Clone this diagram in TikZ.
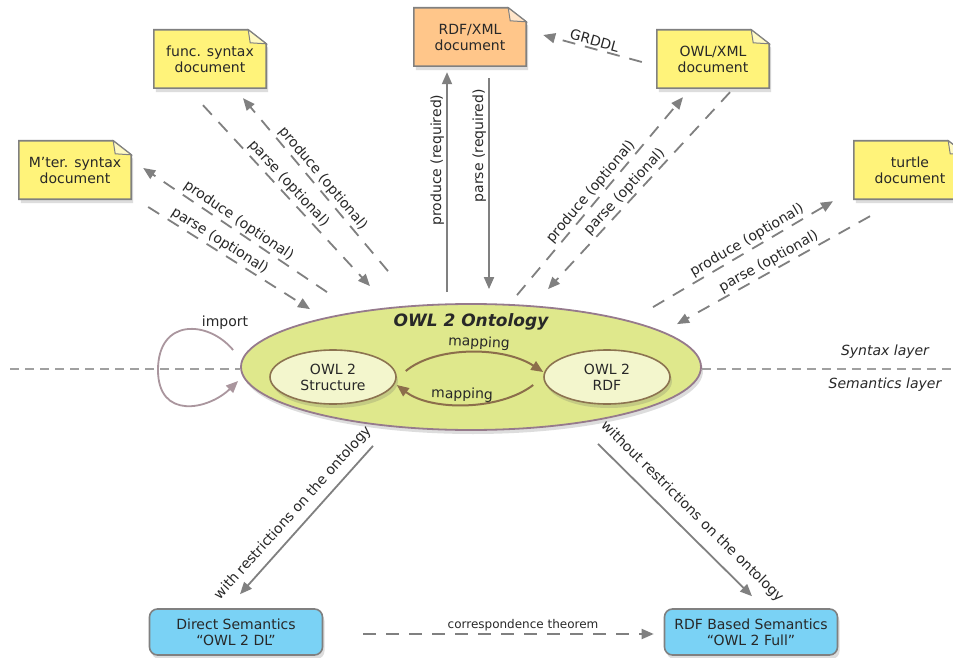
\documentclass[tikz,border=0pt]{standalone}
\usepackage{fontspec}
\setmainfont{DejaVu Sans}
\usetikzlibrary{arrows.meta, positioning, shapes.geometric, calc, backgrounds, shadows}
\definecolor{docyellow}{RGB}{255,243,122}
\definecolor{docorange}{RGB}{255,198,138}
\definecolor{docline}{RGB}{128,128,128}
\definecolor{ontfill}{RGB}{223,232,140}
\definecolor{ontline}{RGB}{150,122,140}
\definecolor{innerfill}{RGB}{243,246,205}
\definecolor{innerline}{RGB}{140,115,80}
\definecolor{mapbrown}{RGB}{140,110,75}
\definecolor{semfill}{RGB}{122,210,245}
\definecolor{arrowgray}{RGB}{128,128,128}
\definecolor{importline}{RGB}{170,150,158}
\definecolor{layerline}{RGB}{160,160,160}
\definecolor{textdark}{RGB}{40,40,40}

\begin{document}
\begin{tikzpicture}[x=1pt, y=-1pt, font=\fontsize{14}{16}\selectfont,
    every node/.append style={text=textdark},
    docnode/.style={minimum width=112pt, minimum height=58pt, align=center, inner sep=2pt},
    docshape/.style={draw=docline, line width=1.6pt},
    softshadow/.style={drop shadow={shadow xshift=2pt, shadow yshift=-4pt, opacity=0.22, fill=black!60}},
    ontnode/.style={ellipse, draw=ontline, line width=1.8pt, fill=ontfill, minimum width=460pt, minimum height=126pt, softshadow},
    innernode/.style={ellipse, draw=innerline, line width=1.6pt, fill=innerfill, minimum width=126pt, minimum height=54pt, align=center, inner sep=0pt},
    semnode/.style={rectangle, rounded corners=8pt, draw=docline, line width=1.6pt, fill=semfill, minimum width=173pt, minimum height=46pt, align=center, softshadow},
    solidarrow/.style={draw=arrowgray, line width=1.8pt, -{Triangle[length=12pt,width=10pt]}},
    dasharrow/.style={solidarrow, dash pattern=on 13pt off 10pt},
    maparrow/.style={draw=mapbrown, line width=2pt, -{Triangle[length=12pt,width=10pt]}},
    arrowlabel/.style={sloped, above, inner sep=2pt},
    vlabel/.style={rotate=90, above, inner sep=2pt},
    layer/.style={draw=layerline, line width=1.3pt, dash pattern=on 9pt off 6pt}]
    \useasboundingbox (0,0) rectangle (953,658);

    % Documents
    \node[docnode] (func) at (210,59) {func. syntax\\document};
    \node[docnode] (rdf) at (470,37) {RDF/XML\\document};
    \node[docnode] (owlxml) at (713,59) {OWL/XML\\document};
    \node[docnode] (mter) at (75,170) {M’ter. syntax\\document};
    \node[docnode] (turtle) at (910,170) {turtle\\document};

    % Ontology with its two forms
    \node[ontnode] (ont) at (471,367) {};
    \node[below=7pt of ont.north, font=\fontsize{17}{20}\selectfont\bfseries\itshape] (onttitle) {OWL 2 Ontology};
    \node[innernode, softshadow] (struct) at (333,377) {OWL 2\\Structure};
    \node[innernode, softshadow] (rdfin) at (607,377) {OWL 2\\RDF};
    \draw[maparrow] ($(struct.east)+(9,-6)$) .. controls +(30,-25) and +(-40,-26) .. ($(rdfin.west)+(0,-5)$)
        node[arrowlabel, pos=0.55] {mapping};
    \draw[maparrow] ($(rdfin.west)+(-10,8)$) .. controls +(-34,26) and +(34,26) .. ($(struct.east)+(0,8)$)
        node[arrowlabel, pos=0.52] {mapping};

    % Import loop
    \coordinate (impout) at ($(ont.west)+(-7,-17)$);
    \coordinate (impmid) at (158,370);
    \coordinate (impin) at ($(ont.west)+(-2,14)$);
    \draw[draw=importline, line width=1.8pt, -{Triangle[length=12pt,width=10pt]}] (impout) .. controls +(-25,-30) and +(0,-52) .. (impmid) .. controls +(0,50) and +(-30,29) .. (impin);
    \node (implabel) at (225,323) {import};

    % Layers
    \coordinate (layerL) at (10,369);
    \coordinate (layerR) at (953,369);
    \draw[layer] (layerL) -- (layerL -| ont.west);
    \draw[layer] (ont.east |- layerR) -- (layerR);
    \node[font=\fontsize{14}{16}\selectfont\itshape] (syntaxlab) at (885,352) {Syntax layer};
    \node[font=\fontsize{14}{16}\selectfont\itshape] (semlab) at (885,385) {Semantics layer};

    % Semantics
    \node[semnode] (direct) at (236,632) {Direct Semantics\\“OWL 2 DL”};
    \node[semnode] (rdfsem) at (751,632) {RDF Based Semantics\\“OWL 2 Full”};

    % func. syntax
    \draw[dasharrow] ($(ont.north)+(-83,-32)$) -- ($(func.south)+(33,10)$) node[arrowlabel, pos=0.5] {produce (optional)};
    \draw[dasharrow] ($(func.south)+(-7,17)$) -- ($(ont.north)+(-101,-17)$) node[arrowlabel, pos=0.47] {parse (optional)};
    % M'ter. syntax
    \draw[dasharrow] ($(ont.north)+(-144,-11)$) -- ($(mter.east)+(12,-2)$) node[arrowlabel, pos=0.51] {produce (optional)};
    \draw[dasharrow] ($(mter.east)+(17,37)$) -- ($(ont.north)+(-161,6)$) node[arrowlabel, pos=0.41] {parse (optional)};
    % RDF/XML
    \draw[solidarrow] ($(ont.north)+(-24,-11)$) -- ($(rdf.south)+(-23,6)$) node[vlabel, pos=0.6] {produce (required)};
    \draw[solidarrow] ($(rdf.south)+(19,12)$) -- ($(ont.north)+(18,-14)$) node[vlabel, pos=0.32] {parse (required)};
    % OWL/XML
    \draw[dasharrow] ($(ont.north)+(46,-8)$) -- ($(owlxml.south)+(-30,9)$) node[arrowlabel, pos=0.49] {produce (optional)};
    \draw[dasharrow] ($(owlxml.south)+(17,4)$) -- ($(ont.north)+(77,-14)$) node[arrowlabel, pos=0.54] {parse (optional)};
    \draw[dasharrow] ($(owlxml.west)+(-15,3)$) -- ($(rdf.east)+(17,-2)$) node[arrowlabel, pos=0.5] {GRDDL};
    % turtle
    \draw[dasharrow] ($(ont.north)+(182,4)$) -- ($(turtle.south)+(-77,2)$) node[arrowlabel, pos=0.55] {produce (optional)};
    \draw[dasharrow] ($(turtle.south)+(-40,17)$) -- ($(ont.north)+(206,21)$) node[arrowlabel, pos=0.5] {parse (optional)};

    % Down to the semantics
    \draw[solidarrow] ($(ont.south)+(-98,15)$) -- ($(direct.north)+(4,-14)$) node[arrowlabel, above=5pt, pos=0.52] {with restrictions on the ontology};
    \draw[solidarrow] ($(ont.south)+(127,13)$) -- ($(rdfsem.north)+(1,-12)$) node[arrowlabel, above=8pt, pos=0.53] {without restrictions on the ontology};
    \draw[dasharrow] ($(direct.east)+(40,2)$) -- ($(rdfsem.west)+(-10,2)$) node[arrowlabel, pos=0.55, font=\fontsize{12}{14}\selectfont] {correspondence theorem};

    % Document outlines with folded corner
    \begin{scope}[on background layer]
        \fill[white] (0,0) rectangle (953,658);
        \foreach \d/\c in {func/docyellow, rdf/docorange, owlxml/docyellow, mter/docyellow, turtle/docyellow} {
            \filldraw[docshape, softshadow, fill=\c] (\d.south west) -- (\d.north west) -- ([xshift=-18pt]\d.north east) -- ([yshift=-14pt]\d.north east) -- (\d.south east) -- cycle;
            \filldraw[docshape, line width=1pt, fill=\c!45!white] ([xshift=-18pt]\d.north east) -- ([xshift=-16pt,yshift=-13pt]\d.north east) -- ([yshift=-14pt]\d.north east) -- cycle;
        }
    \end{scope}
\end{tikzpicture}
\end{document}
